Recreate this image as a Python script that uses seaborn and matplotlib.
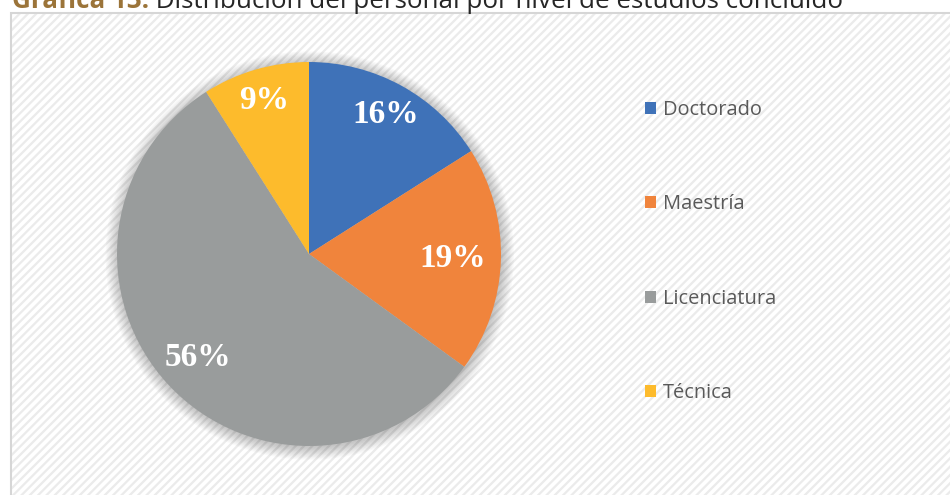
import matplotlib
matplotlib.use("Agg")
import matplotlib.pyplot as plt
import seaborn as sns
import numpy as np
from matplotlib.patches import Rectangle, Circle

# data
categories = ["Doctorado", "Maestría", "Licenciatura", "Técnica"]
percentages = [16, 19, 56, 9]
slice_colors = ["#3F72B8", "#F0843C", "#999C9C", "#FDBB2C"]

title_bold = "Gráfica 13."
title_rest = " Distribución del personal por nivel de estudios concluido"

sns.set_theme(style="white")
plt.rcParams["font.family"] = ["Open Sans", "DejaVu Sans"]
palette = sns.color_palette(slice_colors)

W, H = 950, 495
fig = plt.figure(figsize=(W / 100, H / 100), dpi=100, facecolor="white")

# chart area box with light diagonal texture
bg = fig.add_axes([0, 0, 1, 1], zorder=0)
bg.set_xlim(0, W)
bg.set_ylim(H, 0)
bg.axis("off")
bg.add_patch(Rectangle((11, 13), W + 20, H, facecolor="white",
                       edgecolor="#d6d6d6", linewidth=1.5))
plt.rcParams["hatch.linewidth"] = 1.6
bg.add_patch(Rectangle((12, 14), W + 20, H, facecolor="none",
                       edgecolor="#ebebeb", hatch="////", linewidth=0))

# title (cut off at top like the source)
renderer = fig.canvas.get_renderer()
t1 = fig.text(12 / W, 1 - 8 / H, title_bold, fontsize=18.7, fontweight="bold",
              color="#9B7439", va="baseline", ha="left")
ext = t1.get_window_extent(renderer)
fig.text(ext.x1 / W, 1 - 8 / H, title_rest, fontsize=18.7, color="#262626",
         va="baseline", ha="left")

# pie
cx, cy, r = 309, 254, 192
half = 225
ax = fig.add_axes([(cx - half) / W, (H - cy - half) / H, 2 * half / W, 2 * half / H],
                  zorder=2)

wedges, _ = ax.pie(percentages, colors=palette, startangle=90, counterclock=False,
                   radius=1.0, wedgeprops=dict(linewidth=0))

# soft shadow
for k in range(10):
    ax.add_patch(Circle((0.004, -0.008), 1.0 + 0.007 * k, facecolor="#000000",
                        alpha=0.022, linewidth=0, zorder=0))

lim = half / r
ax.set_xlim(-lim, lim)
ax.set_ylim(-lim, lim)
ax.set_aspect("equal")
ax.axis("off")

label_r = [0.83, 0.75, 0.79, 0.835]
for w, p, rr in zip(wedges, percentages, label_r):
    ang = np.deg2rad((w.theta1 + w.theta2) / 2)
    ax.text(rr * np.cos(ang), rr * np.sin(ang), f"{p}%", ha="center", va="center",
            fontsize=24, fontweight="bold", color="white",
            fontname="Liberation Serif")

# legend
leg = fig.legend(wedges, categories, loc="upper left",
                 bbox_to_anchor=(645 / W, 1 - 100 / H), frameon=False,
                 fontsize=14.4, labelcolor="#595959", handlelength=0.55,
                 handleheight=0.55, handletextpad=0.35, labelspacing=3.72,
                 borderpad=0, borderaxespad=0)

fig.savefig("out.png", dpi=100, facecolor=fig.get_facecolor())
